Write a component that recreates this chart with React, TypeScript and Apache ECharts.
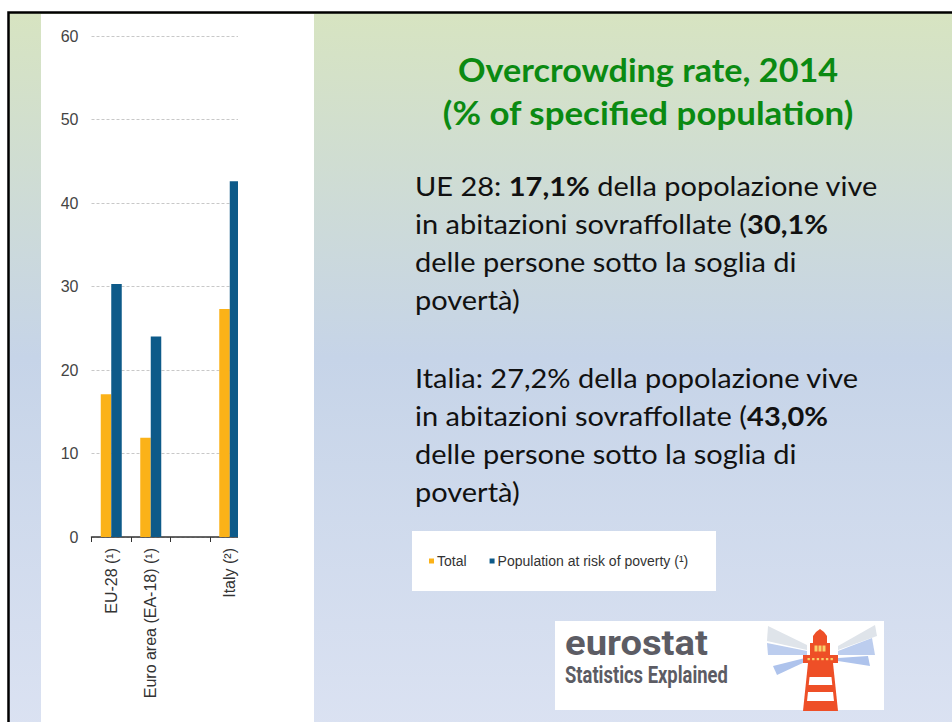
import React, { useEffect, useRef } from 'react';
import * as echarts from 'echarts';

const categories = ['EU-28 (¹)', 'Euro area (EA-18) (¹)', '', 'Italy (²)'];
const totalValues: (number | null)[] = [17.1, 11.9, null, 27.3];
const povertyValues: (number | null)[] = [30.3, 24.0, null, 42.6];
const seriesNames = ['Total', 'Population at risk of poverty (¹)'];
const seriesColors = ['#fbb218', '#0d5a89'];

const titleLines = ['Overcrowding rate, 2014', '(% of specified population)'];
const paragraph1: [string, boolean][][] = [
  [['UE 28: ', false], ['17,1%', true], [' della popolazione vive', false]],
  [['in abitazioni sovraffollate (', false], ['30,1%', true]],
  [['delle persone sotto la soglia di', false]],
  [['povertà)', false]],
];
const paragraph2: [string, boolean][][] = [
  [['Italia: 27,2% della popolazione vive', false]],
  [['in abitazioni sovraffollate (', false], ['43,0%', true]],
  [['delle persone sotto la soglia di', false]],
  [['povertà)', false]],
];

function measure(text: string, font: string): number {
  const c = document.createElement('canvas').getContext('2d');
  if (!c) return 100;
  c.font = font;
  return c.measureText(text).width || 100;
}

function richText(parts: [string, boolean][]): string {
  return parts.map(([t, b]) => `{${b ? 'b' : 'n'}|${t}}`).join('');
}

export default function App() {
  const ref = useRef<HTMLDivElement>(null);
  useEffect(() => {
    if (!ref.current) return;
    const chart = echarts.init(ref.current, undefined, { renderer: 'svg' });
    const bodyFont = 'Lato';
    const bodySize = 27;
    const line1W = paragraph1[0].reduce(
      (s, [t, b]) => s + measure(t, `${b ? 'bold' : 'normal'} ${bodySize}px Lato`),
      0
    );
    const bodyScale = 463 / line1W;
    const bodyRich = {
      n: { fontFamily: bodyFont, fontSize: bodySize, fill: '#111', fontWeight: 'normal' },
      b: { fontFamily: bodyFont, fontSize: bodySize, fill: '#111', fontWeight: 'bold' },
    };
    const bodyEls: any[] = [];
    [paragraph1, paragraph2].forEach((para, pi) => {
      para.forEach((line, li) => {
        bodyEls.push({
          type: 'text',
          x: 415,
          y: 185 + pi * 192 + li * 38,
          z: 5,
          scaleX: bodyScale,
          style: {
            text: richText(line),
            rich: bodyRich,
            fontFamily: bodyFont,
            fontSize: bodySize,
            fill: '#111',
            textAlign: 'left',
            textVerticalAlign: 'middle',
          },
        });
      });
    });

    const titleTargets = [380, 411];
    const titleEls = titleLines.map((t, i) => ({
      type: 'text',
      x: 648,
      y: 69 + i * 44,
      z: 5,
      scaleX: titleTargets[i] / measure(t, 'bold 32px Lato'),
      style: {
        text: t,
        fontFamily: 'Lato',
        fontWeight: 'bold',
        fontSize: 32,
        fill: '#0b8a12',
        textAlign: 'center',
        textVerticalAlign: 'middle',
      },
    }));

    const euroW = measure('eurostat', 'bold 35px Roboto');
    const seW = measure('Statistics Explained', 'bold 24px Roboto');

    const orange = '#ee4f27';
    const towerL = (y: number) => 808 - ((y - 663) * 5) / 48;
    const towerR = (y: number) => 833 + ((y - 663) * 5) / 48;
    const stripe = (y1: number, y2: number) => ({
      type: 'polygon',
      z: 12,
      shape: {
        points: [
          [towerL(y1) + 3, y1],
          [towerR(y1) - 3, y1],
          [towerR(y2) - 3, y2],
          [towerL(y2) + 3, y2],
        ],
      },
      style: { fill: '#ffffff' },
    });
    const beam = (pts: number[][], color: string) => ({
      type: 'polygon',
      z: 11,
      shape: { points: pts },
      style: { fill: color },
    });

    const lighthouse: any[] = [
      beam([[768, 626], [807, 645], [807, 650], [767, 641]], '#dfe4ea'),
      beam([[767, 643], [807, 651], [807, 655], [768, 655]], '#bccdee'),
      beam([[805, 658], [773, 666], [777, 675], [807, 661]], '#aec3ec'),
      beam([[838, 646], [875, 625], [877, 636], [838, 650]], '#dfe4ea'),
      beam([[838, 651], [872, 638], [875, 655], [838, 655]], '#bccdee'),
      beam([[838, 658], [868, 656], [870, 666], [838, 661]], '#aec3ec'),
      {
        type: 'polygon',
        z: 12,
        shape: { points: [[813, 643], [813, 636], [816, 632], [820, 629], [824, 632], [827, 636], [827, 643]] },
        style: { fill: orange },
      },
      { type: 'rect', z: 12, shape: { x: 810, y: 643, width: 20, height: 12 }, style: { fill: orange } },
      { type: 'rect', z: 13, shape: { x: 814.5, y: 645.5, width: 3, height: 6 }, style: { fill: '#f9cf6a' } },
      { type: 'rect', z: 13, shape: { x: 818.5, y: 645.5, width: 3, height: 6 }, style: { fill: '#f9cf6a' } },
      { type: 'rect', z: 13, shape: { x: 822.5, y: 645.5, width: 3, height: 6 }, style: { fill: '#f9cf6a' } },
      { type: 'rect', z: 12, shape: { x: 803, y: 655, width: 35, height: 8 }, style: { fill: orange } },
      ...[0, 1, 2, 3, 4, 5].map((i) => ({
        type: 'rect',
        z: 13,
        shape: { x: 807.5 + i * 4.6, y: 658, width: 2.4, height: 2.2 },
        style: { fill: '#f9cf6a' },
      })),
      {
        type: 'polygon',
        z: 12,
        shape: { points: [[808, 663], [833, 663], [838, 711], [803, 711]] },
        style: { fill: orange },
      },
      stripe(677, 685),
      stripe(692, 701),
    ];

    const option: any = {
      animation: false,
      grid: { left: 91.5, top: 36, width: 158, height: 501, containLabel: false },
      legend: {
        left: 429,
        top: 554,
        padding: 0,
        itemWidth: 5,
        itemHeight: 5,
        itemGap: 23,
        icon: 'rect',
        data: seriesNames,
        textStyle: { fontFamily: 'Liberation Sans', fontSize: 14, color: '#333', padding: [0, 0, 0, -2] },
        z: 20,
      },
      xAxis: {
        type: 'category',
        data: categories,
        axisLine: { lineStyle: { color: '#333', width: 1.5 } },
        axisTick: { show: true, length: 5, alignWithLabel: false, lineStyle: { color: '#333' } },
        axisLabel: {
          rotate: 90,
          interval: 0,
          margin: 11,
          fontFamily: 'Liberation Sans',
          fontSize: 16,
          color: '#333',
        },
        splitLine: { show: false },
      },
      yAxis: {
        type: 'value',
        min: 0,
        max: 60,
        interval: 10,
        axisLine: { show: false },
        axisTick: { show: false },
        axisLabel: { margin: 13, fontFamily: 'Liberation Sans', fontSize: 16, color: '#444' },
        splitLine: { show: true, lineStyle: { color: '#c8c8c8', type: [3, 2], width: 1 } },
      },
      series: [
        {
          name: seriesNames[0],
          type: 'bar',
          data: totalValues,
          barWidth: 10.5,
          barGap: '0%',
          itemStyle: { color: seriesColors[0] },
        },
        {
          name: seriesNames[1],
          type: 'bar',
          data: povertyValues,
          barWidth: 10.5,
          barGap: '0%',
          itemStyle: { color: seriesColors[1] },
        },
      ],
      graphic: [
        {
          type: 'rect',
          z: -10,
          shape: { x: 8.5, y: 12.5, width: 960, height: 720 },
          style: {
            fill: new echarts.graphic.LinearGradient(0, 0, 0, 1, [
              { offset: 0, color: '#d7e4c1' },
              { offset: 0.48, color: '#c6d4e8' },
              { offset: 1, color: '#dbe2f2' },
            ]),
            stroke: '#000',
            lineWidth: 2.5,
          },
        },
        { type: 'rect', z: -9, shape: { x: 41, y: 14, width: 273, height: 720 }, style: { fill: '#ffffff' } },
        { type: 'rect', z: 50, shape: { x: 238, y: 14, width: 76, height: 532 }, style: { fill: '#ffffff' } },
        { type: 'rect', z: -5, shape: { x: 412, y: 531, width: 304, height: 60 }, style: { fill: '#ffffff' } },
        { type: 'rect', z: 10, shape: { x: 555, y: 621, width: 329, height: 89 }, style: { fill: '#ffffff' } },
        ...titleEls,
        ...bodyEls,
        {
          type: 'text',
          x: 565,
          y: 643,
          z: 12,
          scaleX: 143 / euroW,
          style: {
            text: 'eurostat',
            fontFamily: 'Roboto',
            fontWeight: 'bold',
            fontSize: 35,
            fill: '#5c5c64',
            textAlign: 'left',
            textVerticalAlign: 'middle',
          },
        },
        {
          type: 'text',
          x: 565,
          y: 675,
          z: 12,
          scaleX: 163 / seW,
          style: {
            text: 'Statistics Explained',
            fontFamily: 'Roboto',
            fontWeight: 'bold',
            fontSize: 24,
            fill: '#5c5c64',
            textAlign: 'left',
            textVerticalAlign: 'middle',
          },
        },
        ...lighthouse,
      ],
    };
    chart.setOption(option);
    return () => chart.dispose();
  }, []);
  return <div ref={ref} style={{ position: 'absolute', left: 0, top: 0, width: 952, height: 722 }} />;
}
